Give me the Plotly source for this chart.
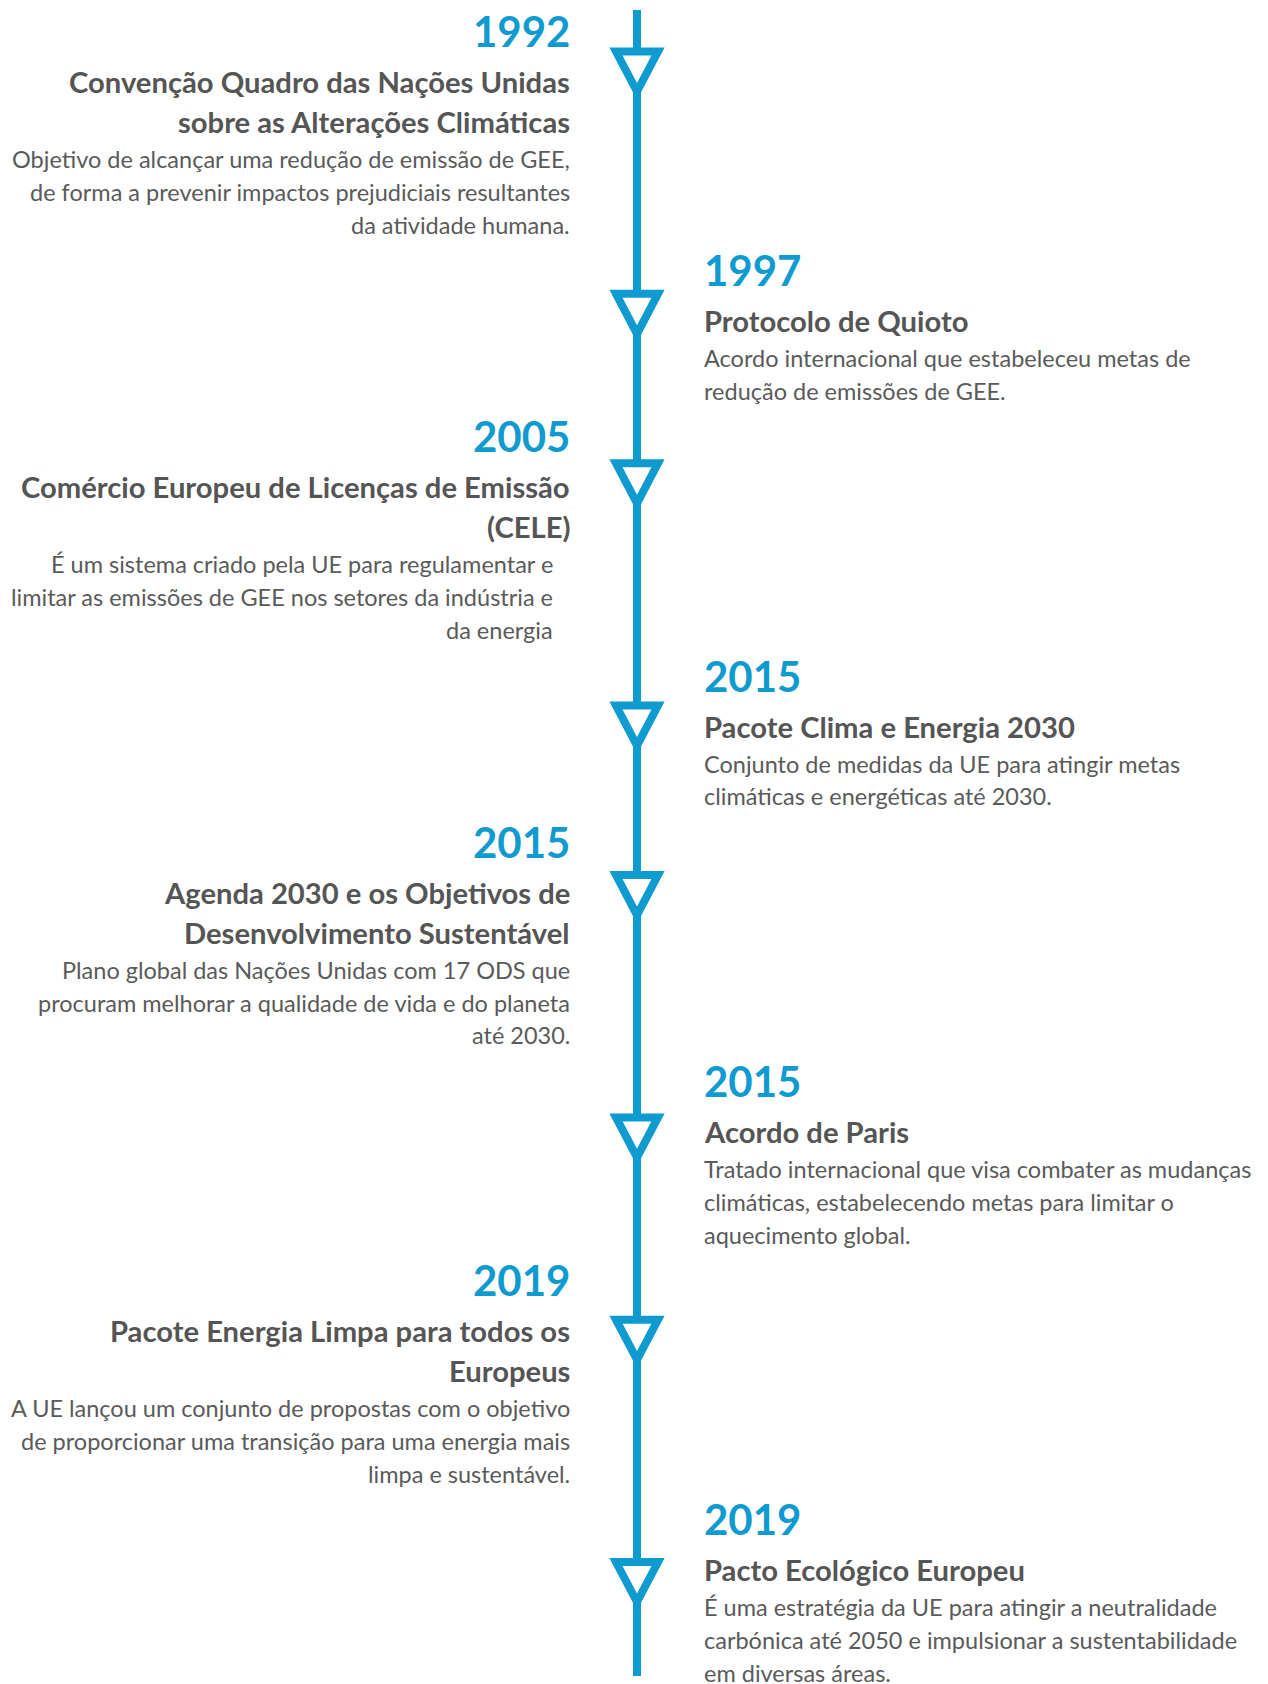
import plotly.graph_objects as go

# ---------------- data ----------------
years = ["1992", "1997", "2005", "2015", "2015", "2015", "2019", "2019"]
sides = ["left", "right", "left", "right", "left", "right", "left", "right"]
titles = [
    ["Convenção Quadro das Nações Unidas", "sobre as Alterações Climáticas"],
    ["Protocolo de Quioto"],
    ["Comércio Europeu de Licenças de Emissão", "(CELE)"],
    ["Pacote Clima e Energia 2030"],
    ["Agenda 2030 e os Objetivos de", "Desenvolvimento Sustentável"],
    ["Acordo de Paris"],
    ["Pacote Energia Limpa para todos os", "Europeus"],
    ["Pacto Ecológico Europeu"],
]
descriptions = [
    ["Objetivo de alcançar uma redução de emissão de GEE,",
     "de forma a prevenir impactos prejudiciais resultantes",
     "da atividade humana."],
    ["Acordo internacional que estabeleceu metas de",
     "redução de emissões de GEE."],
    ["É um sistema criado pela UE para regulamentar e",
     "limitar as emissões de GEE nos setores da indústria e",
     "da energia"],
    ["Conjunto de medidas da UE para atingir metas",
     "climáticas e energéticas até 2030."],
    ["Plano global das Nações Unidas com 17 ODS que",
     "procuram melhorar a qualidade de vida e do planeta",
     "até 2030."],
    ["Tratado internacional que visa combater as mudanças",
     "climáticas, estabelecendo metas para limitar o",
     "aquecimento global."],
    ["A UE lançou um conjunto de propostas com o objetivo",
     "de proporcionar uma transição para uma energia mais",
     "limpa e sustentável."],
    ["É uma estratégia da UE para atingir a neutralidade",
     "carbónica até 2050 e impulsionar a sustentabilidade",
     "em diversas áreas."],
]

# ---------------- layout / style ----------------
W, H = 1268, 1684
LINE_X = 637
LEFT_X = 572
RIGHT_X = 702
DESC_INDENT = [0, 0, 17, 0, 0, 0, 0, 0]  # extra right padding of descriptions (left side)

BLUE = "#0f9bd0"
TITLE_C = "#555555"
DESC_C = "#5a5a5a"
FONT = "Lato"

YEAR_SIZE = 42
TITLE_SIZE = 29.2
DESC_SIZE = 23.5

Y_START = 31
YEAR_TO_TITLE = 50.5
TITLE_STEP = 40
TITLE_TO_DESC = 37.5
DESC_STEP = 32.8
DESC_TO_YEAR = 45.5

fig = go.Figure()

# vertical timeline line
fig.add_trace(go.Scatter(x=[LINE_X, LINE_X], y=[10, 1676], mode="lines",
                         line=dict(color=BLUE, width=8), hoverinfo="skip",
                         showlegend=False))

annotations = []
shapes = []
y = Y_START
for i, (yr, side, tl, dl) in enumerate(zip(years, sides, titles, descriptions)):
    if side == "left":
        ax, anchor = LEFT_X, "right"
    else:
        ax, anchor = RIGHT_X, "left"
    annotations.append(dict(x=ax, y=y, text=yr, xanchor=anchor, yanchor="middle",
                            showarrow=False,
                            font=dict(family=FONT, size=YEAR_SIZE, color=BLUE, weight=700)))
    # triangle marker
    tri_top = y + 16.5 + 3.2 * i + 4
    hw = 21
    h = 40
    shapes.append(dict(type="path", xref="x", yref="y",
                       path=f"M {LINE_X - hw},{tri_top} L {LINE_X + hw},{tri_top} L {LINE_X},{tri_top + h} Z",
                       line=dict(color=BLUE, width=8), fillcolor="white", layer="above"))
    ty = y + YEAR_TO_TITLE
    for k, line in enumerate(tl):
        annotations.append(dict(x=ax, y=ty, text=line, xanchor=anchor, yanchor="middle",
                                showarrow=False,
                                font=dict(family=FONT, size=TITLE_SIZE, color=TITLE_C, weight=700)))
        if k < len(tl) - 1:
            ty += TITLE_STEP
    dy = ty + TITLE_TO_DESC
    dx = ax - DESC_INDENT[i] if side == "left" else ax
    for k, line in enumerate(dl):
        annotations.append(dict(x=dx, y=dy, text=line, xanchor=anchor, yanchor="middle",
                                showarrow=False,
                                font=dict(family=FONT, size=DESC_SIZE, color=DESC_C)))
        if k < len(dl) - 1:
            dy += DESC_STEP
    y = dy + DESC_TO_YEAR

fig.update_layout(
    width=W, height=H,
    margin=dict(l=0, r=0, t=0, b=0),
    paper_bgcolor="white", plot_bgcolor="white",
    xaxis=dict(range=[0, W], visible=False, fixedrange=True),
    yaxis=dict(range=[H, 0], visible=False, fixedrange=True),
    annotations=annotations, shapes=shapes,
    showlegend=False,
)

fig.write_html("out.html", config={"displayModeBar": False},
               post_script="document.body.style.margin='0';")
